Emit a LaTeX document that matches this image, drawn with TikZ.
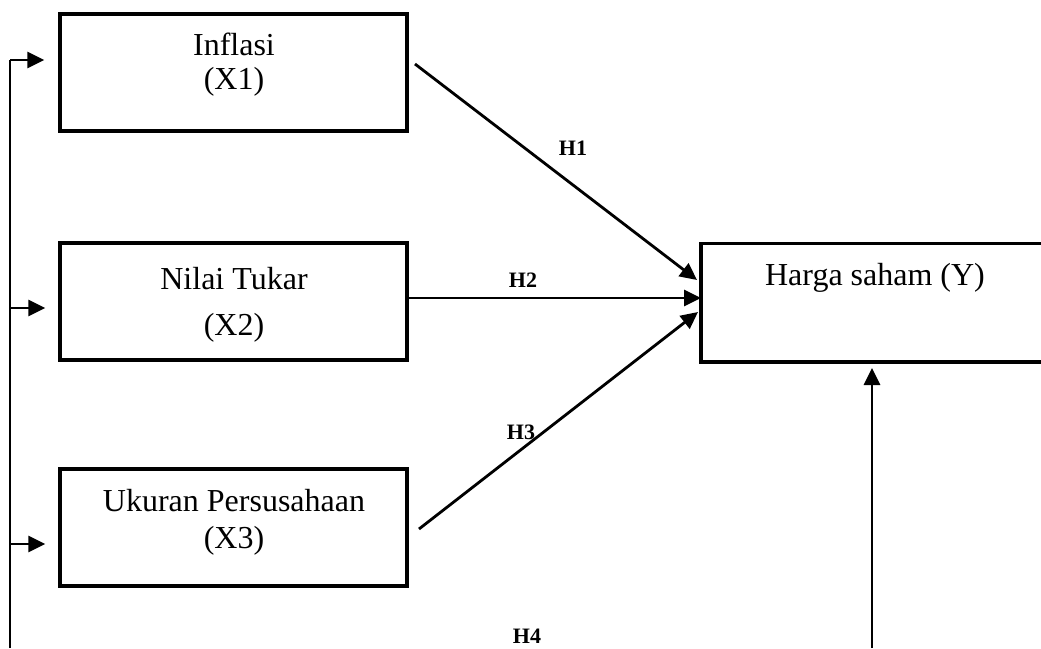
\documentclass[tikz,border=0pt]{standalone}
\usepackage{fontspec}
\setmainfont{Liberation Serif}
\usetikzlibrary{arrows.meta,calc}
\begin{document}
\begin{tikzpicture}[x=1pt,y=-1pt,
  varbox/.style={draw,line width=3.3pt,rectangle,inner sep=0pt,minimum width=347pt,minimum height=117pt},
  boxtext/.style={anchor=base,inner sep=0pt,font=\fontsize{32}{38}\selectfont},
  hlabel/.style={anchor=base,inner sep=0pt,font=\bfseries\fontsize{22}{26}\selectfont},
  arr/.style={line width=2.8pt,-{Triangle[length=17pt,width=16pt]}},
  thinline/.style={line width=2.2pt}]
\useasboundingbox (0,0) rectangle (1041,648);
\clip (0,0) rectangle (1041,648);
% boxes
\node[varbox] (X1) at (233.5,72.5) {};
\node[varbox] (X2) at (233.5,301.5) {};
\node[varbox] (X3) at (233.5,527.5) {};
\node[varbox,minimum width=352pt,minimum height=118.5pt] (Y) at (877,302.75) {};
% texts
\node[boxtext] (t1a) at (234,55) {Inflasi};
\node[boxtext] (t1b) at (234,89) {(X1)};
\node[boxtext] (t2a) at (234,289) {Nilai Tukar};
\node[boxtext] (t2b) at (234,335) {(X2)};
\node[boxtext] (t3a) at (234,511) {Ukuran Persusahaan};
\node[boxtext] (t3b) at (234,548) {(X3)};
\node[boxtext] (ty) at (875,285) {Harga saham (Y)};
% hypothesis labels
\node[hlabel] (h1) at (573,155) {H1};
\node[hlabel] (h2) at (523,287) {H2};
\node[hlabel] (h3) at (521,439) {H3};
\node[hlabel] (h4) at (527,643) {H4};
% coordinates
\coordinate (L1) at (10,60);
\coordinate (L2) at (10,308);
\coordinate (L3) at (10,544);
\coordinate (LB) at (10,648);
\coordinate (h1s) at (415,64);
\coordinate (h1e) at (697,280);
\coordinate (h2s) at (408,298);
\coordinate (h2e) at (701,298);
\coordinate (h3s) at (419,529);
\coordinate (h3e) at (698,312);
\coordinate (h4s) at (872,648);
\coordinate (h4e) at (872,368);
% left feedback line
\draw[thinline] (LB) -- (L1);
\draw[arr,shorten >=14pt] (L1) -- (L1 -| X1.west);
\draw[arr,shorten >=13pt] (L2) -- (L2 -| X2.west);
\draw[arr,shorten >=13pt] (L3) -- (L3 -| X3.west);
% hypothesis arrows
\draw[arr] (h1s) -- (h1e);
\draw[arr] (h2s) -- (h2e);
\draw[arr] (h3s) -- (h3e);
\draw[arr] (h4s) -- (h4e);
\end{tikzpicture}
\end{document}
